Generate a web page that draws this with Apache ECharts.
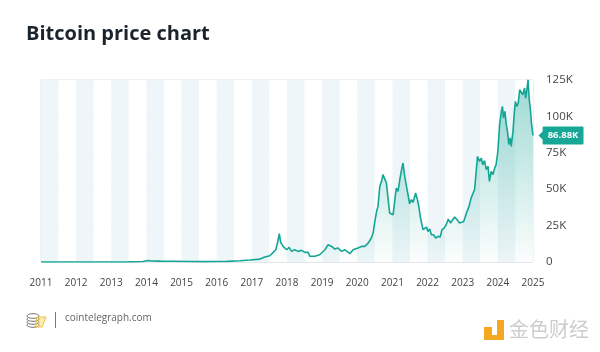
<!DOCTYPE html>
<html>
<head>
<meta charset="utf-8">
<script src="https://cdn.jsdelivr.net/npm/echarts@6/dist/echarts.min.js"></script>
<style>
  html, body { margin: 0; padding: 0; background: #fff; }
  #chart { width: 600px; height: 352px; }
</style>
</head>
<body>
<div id="chart"></div>
<script>
// x positions in axis years (as laid out on the source chart), price in thousands USD
const dates = [
  2011.0, 2011.5, 2012.0, 2012.5, 2013.0, 2013.5, 2013.9, 2014.05, 2014.15, 2014.4, 2014.8, 2015.2, 2015.6, 2016.0, 2016.3, 2016.66,
  2016.95, 2017.23, 2017.37, 2017.51, 2017.61, 2017.68, 2017.73, 2017.78, 2017.82, 2017.86, 2017.89, 2017.94, 2017.99,
  2018.06, 2018.13, 2018.22, 2018.32, 2018.41, 2018.51, 2018.60, 2018.65, 2018.79, 2018.93,
  2019.08, 2019.17, 2019.27, 2019.36, 2019.45, 2019.55, 2019.65, 2019.69, 2019.79, 2019.88,
  2020.02, 2020.12, 2020.21, 2020.31, 2020.40, 2020.45, 2020.50, 2020.55, 2020.59, 2020.64, 2020.69, 2020.73, 2020.78, 2020.83, 2020.88, 2020.92, 2020.97,
  2021.02, 2021.07, 2021.11, 2021.16, 2021.21, 2021.26, 2021.30, 2021.35, 2021.40, 2021.44, 2021.49, 2021.54, 2021.59, 2021.63, 2021.66, 2021.70, 2021.75, 2021.80, 2021.83, 2021.87, 2021.92, 2021.97,
  2022.01, 2022.06, 2022.11, 2022.17, 2022.23, 2022.30, 2022.36, 2022.41, 2022.47, 2022.53, 2022.59, 2022.65, 2022.70, 2022.77, 2022.84, 2022.91, 2022.96,
  2023.03, 2023.10, 2023.18, 2023.24, 2023.29, 2023.34, 2023.39, 2023.42, 2023.48, 2023.53, 2023.57, 2023.62, 2023.67, 2023.72, 2023.76, 2023.81, 2023.86, 2023.91, 2023.95,
  2024.00, 2024.05, 2024.10, 2024.13, 2024.16, 2024.20, 2024.24, 2024.28, 2024.31, 2024.35, 2024.38, 2024.43, 2024.47, 2024.50, 2024.54, 2024.58,
  2024.62, 2024.67, 2024.71, 2024.76, 2024.79, 2024.82, 2024.86, 2024.89, 2024.93, 2024.96, 2025.0
];
const prices = [
  0.0, 0.02, 0.01, 0.01, 0.03, 0.1, 0.3, 1.0, 0.7, 0.6, 0.5, 0.3, 0.25, 0.35, 0.45, 0.9,
  1.4, 2.0, 3.4, 4.3, 6.6, 8.4, 13, 19.4, 13.5, 14.8, 10.7, 11.9, 8.4,
  10, 7.3, 8.4, 7.3, 8.0, 6.6, 6.6, 3.9, 3.9, 5.0,
  8.4, 11.9, 10.7, 8.9, 9.6, 7.3, 8.4, 9.6, 5.7, 8.4,
  9.6, 10.7, 10.7, 13, 16.5, 19.9, 27.9, 34.8, 38.2, 51.9, 55.4, 60, 58.8, 54.2, 42.8, 33.6, 34.8,
  32.5, 42.8, 50.8, 48.5, 56.5, 63.4, 68, 58.8, 51.9, 50.8, 40, 42.8, 41, 41.6, 47.4, 44, 38.2, 30.2, 31.3, 22.2, 21, 24,
  21, 22.7, 18.7, 18.7, 16.5, 17.6, 17.2, 22.2, 23.3, 25.6, 29.5, 26.8, 27.9, 30.9, 29, 26.8, 25.6,
  27.9, 33.2, 38.2, 44, 42.8, 50, 64, 72.5, 69.1, 71.4, 66.8, 69.6, 63.4, 65.7, 55.4, 62.2, 60, 64.6, 66.8,
  76, 94.3, 103.4, 106.9, 98.9, 103.4, 94.3, 88.6, 80.6, 85.2, 79.4, 89.7, 103.4, 110.3, 106.9, 109.2,
  118.3, 119.5, 114.9, 119.5, 112.6, 117.2, 125.2, 112.6, 103.4, 94.3, 86.88
];
const yTickLabels = ['0', '25K', '50K', '75K', '100K', '125K'];
const lastPriceLabel = '86.88K';

const teal = '#14a595';
const font = 'Open Sans';

const chart = echarts.init(document.getElementById('chart'));
const option = {
  animation: false,
  backgroundColor: '#fff',
  title: {
    text: 'Bitcoin price chart',
    left: 21,
    top: 19,
    textStyle: { fontFamily: font, fontWeight: 'bold', fontSize: 20, color: '#1b232c' }
  },
  grid: {
    left: 41, right: 67, top: 80, bottom: 90,
    show: true, borderColor: '#dfe4e7', borderWidth: 1
  },
  xAxis: {
    type: 'value',
    min: 2011, max: 2025, interval: 0.5,
    axisLine: { show: false },
    axisTick: { show: false },
    splitLine: { show: false },
    splitArea: { show: true, areaStyle: { color: ['#eff6f9', '#ffffff'] } },
    axisLabel: {
      margin: 16, fontFamily: font, fontSize: 10, color: '#444',
      showMaxLabel: true,
      formatter: v => (Math.abs(v % 1) < 1e-6 ? String(Math.round(v)) : '')
    }
  },
  yAxis: {
    type: 'value',
    position: 'right',
    min: 0, max: 125, interval: 25,
    axisLine: { show: false },
    axisTick: { show: false },
    splitLine: { lineStyle: { color: '#e3e7ea', width: 1 } },
    axisLabel: {
      margin: 13, fontFamily: font, fontSize: 11.5, color: '#444',
      formatter: v => yTickLabels[Math.round(v / 25)]
    }
  },
  series: [{
    type: 'line',
    data: dates.map((d, i) => [d, prices[i]]),
    symbol: 'none',
    lineStyle: { color: teal, width: 1.6 },
    areaStyle: {
      color: new echarts.graphic.LinearGradient(0, 0, 0, 1, [
        { offset: 0, color: 'rgba(20,165,149,0.6)' },
        { offset: 1, color: 'rgba(20,165,149,0.02)' }
      ])
    },
    markPoint: {
      silent: true,
      data: [{
        coord: [dates[dates.length - 1], prices[prices.length - 1]],
        symbol: 'path://M0,9 L4,5 L4,1 Q4,0 5,0 L43,0 Q44,0 44,1 L44,17 Q44,18 43,18 L5,18 Q4,18 4,17 L4,13 Z',
        symbolSize: [45, 18],
        symbolKeepAspect: false,
        symbolOffset: [28, 0],
        itemStyle: { color: '#17a797' },
        label: {
          show: true, position: 'inside', offset: [2, 0],
          formatter: lastPriceLabel,
          color: '#fff', fontFamily: font, fontWeight: 'bold', fontSize: 9.5
        }
      }]
    }
  }],
  graphic: [
    // cointelegraph coin stack logo
    { type: 'ellipse', shape: { cx: 33, cy: 325, rx: 6, ry: 2.3 }, style: { fill: '#fff', stroke: '#6d6d6d', lineWidth: 1 } },
    { type: 'ellipse', shape: { cx: 33, cy: 322, rx: 6, ry: 2.3 }, style: { fill: '#fff', stroke: '#6d6d6d', lineWidth: 1 } },
    { type: 'ellipse', shape: { cx: 33, cy: 319, rx: 6, ry: 2.3 }, style: { fill: '#fff', stroke: '#6d6d6d', lineWidth: 1 } },
    { type: 'ellipse', shape: { cx: 33, cy: 316, rx: 6, ry: 2.3 }, style: { fill: '#fff', stroke: '#6d6d6d', lineWidth: 1 } },
    { type: 'polygon', shape: { points: [[37, 317], [46, 317], [42, 327], [35, 327]] }, style: { fill: 'rgba(245,200,60,0.35)', stroke: '#efc235', lineWidth: 1 } },
    { type: 'line', shape: { x1: 55.5, y1: 312, x2: 55.5, y2: 328 }, style: { stroke: '#7a7a7a', lineWidth: 1 } },
    { type: 'text', left: 65, top: 313, style: { text: 'cointelegraph.com', fontFamily: font, fontSize: 10, fill: '#5f6569' } },
    // watermark
    { type: 'rect', shape: { x: 484, y: 327, width: 8, height: 8 }, style: { fill: '#f5a71f' } },
    { type: 'rect', shape: { x: 497, y: 320, width: 7, height: 20 }, style: { fill: '#f5a71f' } },
    { type: 'rect', shape: { x: 484, y: 335, width: 20, height: 5 }, style: { fill: '#f5a71f' } },
    { type: 'text', left: 509, top: 319, style: { text: '金色财经', fontFamily: 'Noto Sans CJK SC', fontSize: 20, fill: '#cdcdcd' } }
  ]
};
chart.setOption(option);
</script>
</body>
</html>
